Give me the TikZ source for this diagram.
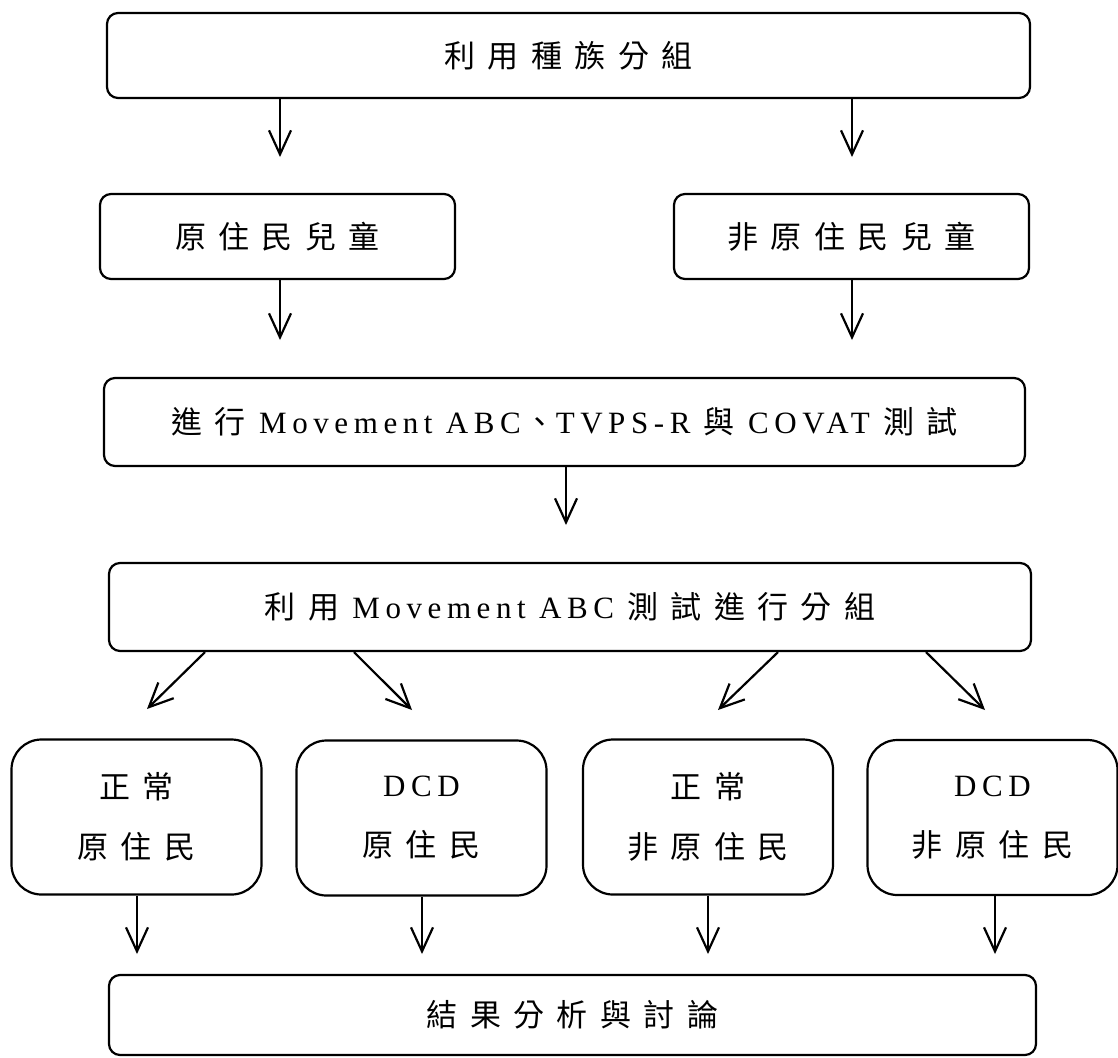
\documentclass[tikz,border=0pt]{standalone}
\usepackage{fontspec}
\setmainfont[LetterSpace=18]{Liberation Serif}
\newfontfamily\zhfont[LetterSpace=40]{Noto Sans CJK TC}
\newcommand{\zh}[1]{{\zhfont #1}}
\usetikzlibrary{arrows.meta}

\tikzset{
    flowbox/.style={draw, line width=2.2pt, rounded corners=11pt, align=center, inner sep=0pt, font=\fontsize{31}{60}\selectfont},
    groupbox/.style={flowbox, rounded corners=30pt, minimum width=250pt, minimum height=155pt},
    flowarrow/.style={line width=2.2pt, -{Straight Barb[length=24pt, width=22pt]}},
}

\begin{document}
\begin{tikzpicture}[x=1pt, y=-1pt]
    \useasboundingbox (0,0) rectangle (1118,1057);

    %%  Grouping by ethnicity
    \node [flowbox, minimum width=923pt, minimum height=85pt] (race) at (568.5, 55.5) {\zh{利用種族分組}};
    \node [flowbox, minimum width=355pt, minimum height=85pt] (abor) at (277.5, 236.5) {\zh{原住民兒童}};
    \node [flowbox, minimum width=355pt, minimum height=85pt] (nonabor) at (851.5, 236.5) {\zh{非原住民兒童}};

    %%  Tests
    \node [flowbox, minimum width=921pt, minimum height=88pt] (test) at (564.5, 422) {\zh{進行} Movement ABC\hspace{4pt}\zh{、}TVPS-R \zh{與} COVAT \zh{測試}};
    \node [flowbox, minimum width=922pt, minimum height=88pt] (split) at (570, 607) {\zh{利用} Movement ABC \zh{測試進行分組}};

    %%  Four groups
    \node [groupbox] (normA) at (136.5, 817) {\zh{正常}\\\zh{原住民}};
    \node [groupbox] (dcdA) at (421.5, 818) {DCD\\\zh{原住民}};
    \node [groupbox] (normN) at (708, 817) {\zh{正常}\\\zh{非原住民}};
    \node [groupbox] (dcdN) at (992.5, 817.5) {DCD\\\zh{非原住民}};

    %%  Result
    \node [flowbox, minimum width=927pt, minimum height=80pt] (result) at (572.5, 1015) {\zh{結果分析與討論}};

    % Arrow tips
    \coordinate (tipAbor) at (280, 157);
    \coordinate (tipNon) at (852, 157);
    \coordinate (tipAborTest) at (280, 340);
    \coordinate (tipNonTest) at (852, 340);
    \coordinate (tipSplit) at (566, 525);
    \coordinate (tipNormA) at (147, 709);
    \coordinate (tipDcdA) at (412, 710);
    \coordinate (tipNormN) at (718, 710);
    \coordinate (tipDcdN) at (985, 710);
    \coordinate (tipR1) at (137, 954);
    \coordinate (tipR2) at (422, 954);
    \coordinate (tipR3) at (708, 954);
    \coordinate (tipR4) at (995, 954);

    % Ethnicity to children
    \draw [flowarrow] (race.south -| tipAbor) -- (tipAbor);
    \draw [flowarrow] (race.south -| tipNon) -- (tipNon);
    % Children to tests
    \draw [flowarrow] (abor.south -| tipAborTest) -- (tipAborTest);
    \draw [flowarrow] (nonabor.south -| tipNonTest) -- (tipNonTest);
    % Tests to grouping
    \draw [flowarrow] (test.south -| tipSplit) -- (tipSplit);
    % Grouping to four groups
    \draw [flowarrow] (split.south -| 205,0) -- (tipNormA);
    \draw [flowarrow] (split.south -| 354,0) -- (tipDcdA);
    \draw [flowarrow] (split.south -| 778,0) -- (tipNormN);
    \draw [flowarrow] (split.south -| 926,0) -- (tipDcdN);
    % Four groups to result
    \draw [flowarrow] (normA.south -| tipR1) -- (tipR1);
    \draw [flowarrow] (dcdA.south -| tipR2) -- (tipR2);
    \draw [flowarrow] (normN.south -| tipR3) -- (tipR3);
    \draw [flowarrow] (dcdN.south -| tipR4) -- (tipR4);

\end{tikzpicture}
\end{document}
